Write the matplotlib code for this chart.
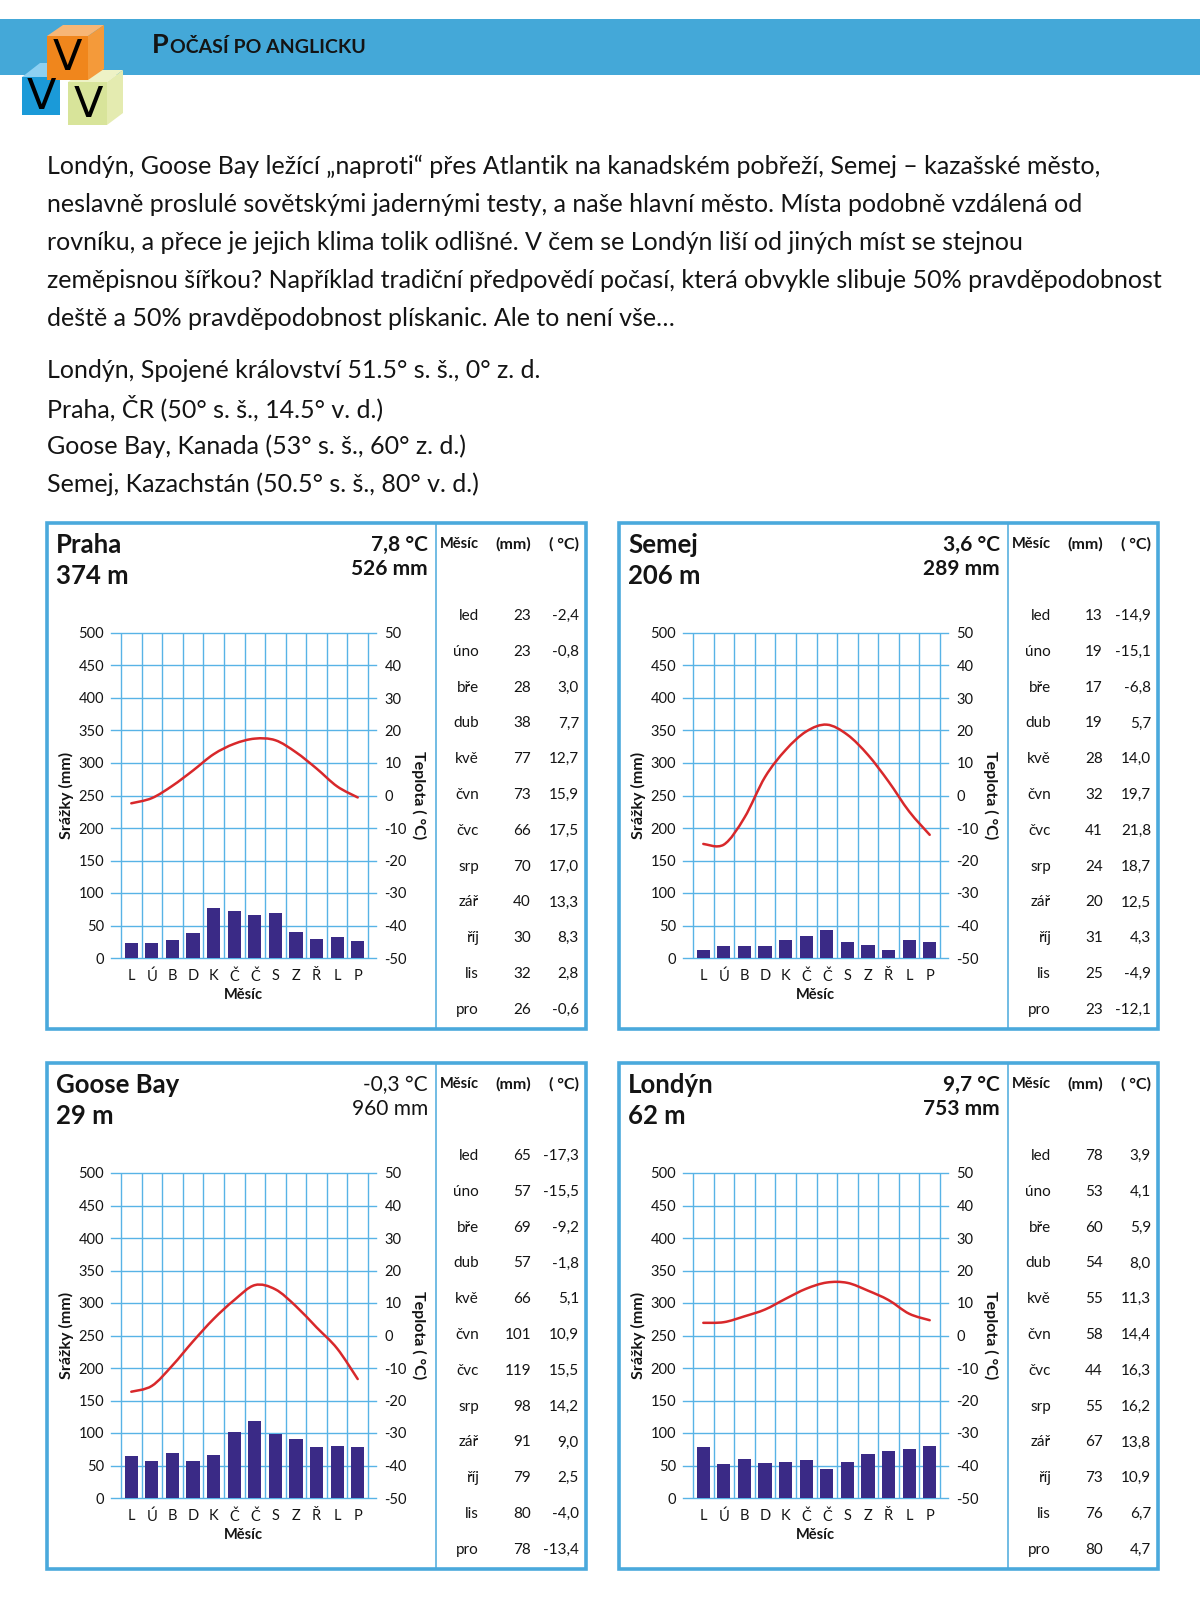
import matplotlib.pyplot as plt
import numpy as np
from matplotlib.patches import Rectangle, Polygon, PathPatch
from matplotlib.path import Path

plt.rcParams['font.family'] = ['Lato', 'DejaVu Sans']
plt.rcParams['axes.unicode_minus'] = False

W, H = 1200, 1612

# month labels
month_letters = ['L', 'Ú', 'B', 'D', 'K', 'Č', 'Č', 'S', 'Z', 'Ř', 'L', 'P']
month_names = ['led', 'úno', 'bře', 'dub', 'kvě', 'čvn', 'čvc', 'srp', 'zář', 'říj', 'lis', 'pro']

# station headers
cities = ['Praha', 'Semej', 'Goose Bay', 'Londýn']
altitudes = ['374 m', '206 m', '29 m', '62 m']
mean_temps = ['7,8', '3,6', '-0,3', '9,7']
total_precip = ['526', '289', '960', '753']

# monthly data (table values)
praha_mm = [23, 23, 28, 38, 77, 73, 66, 70, 40, 30, 32, 26]
praha_t = [-2.4, -0.8, 3.0, 7.7, 12.7, 15.9, 17.5, 17.0, 13.3, 8.3, 2.8, -0.6]
semej_mm = [13, 19, 17, 19, 28, 32, 41, 24, 20, 31, 25, 23]
semej_t = [-14.9, -15.1, -6.8, 5.7, 14.0, 19.7, 21.8, 18.7, 12.5, 4.3, -4.9, -12.1]
goose_mm = [65, 57, 69, 57, 66, 101, 119, 98, 91, 79, 80, 78]
goose_t = [-17.3, -15.5, -9.2, -1.8, 5.1, 10.9, 15.5, 14.2, 9.0, 2.5, -4.0, -13.4]
london_mm = [78, 53, 60, 54, 55, 58, 44, 55, 67, 73, 76, 80]
london_t = [3.9, 4.1, 5.9, 8.0, 11.3, 14.4, 16.3, 16.2, 13.8, 10.9, 6.7, 4.7]
# Semej bars in the chart differ a bit from its table
semej_bars = [12, 19, 19, 19, 28, 34, 43, 25, 20, 12, 27, 25]

intro = [
    'Londýn, Goose Bay ležící „naproti“ přes Atlantik na kanadském pobřeží, Semej – kazašské město,',
    'neslavně proslulé sovětskými jadernými testy, a naše hlavní město. Místa podobně vzdálená od',
    'rovníku, a přece je jejich klima tolik odlišné. V čem se Londýn liší od jiných míst se stejnou',
    'zeměpisnou šířkou? Například tradiční předpovědí počasí, která obvykle slibuje 50% pravděpodobnost',
    'deště a 50% pravděpodobnost plískanic. Ale to není vše…',
]
places = [
    'Londýn, Spojené království 51.5° s. š., 0° z. d.',
    'Praha, ČR (50° s. š., 14.5° v. d.)',
    'Goose Bay, Kanada (53° s. š., 60° z. d.)',
    'Semej, Kazachstán (50.5° s. š., 80° v. d.)',
]

band_col = '#44a8d8'
border_col = '#4aa9dc'
grid_col = '#58b3e6'
bar_col = '#3a2a86'
line_col = '#d8282b'
txt = '#141414'

fig = plt.figure(figsize=(12, 16.12), dpi=100)
page = fig.add_axes([0, 0, 1, 1])
page.set_xlim(0, W)
page.set_ylim(H, 0)
page.axis('off')

"""
# header band and logo
"""
page.add_patch(Rectangle((0, 19), W, 56, color=band_col, lw=0))

# blue cube
page.add_patch(Polygon([(22, 77), (40, 63), (76, 63), (60, 77)], color='#8dd0f2', lw=0))
page.add_patch(Rectangle((22, 77), 38, 38, color='#1b9ad8', lw=0))
# yellow cube
page.add_patch(Polygon([(68, 82), (84, 70), (123, 70), (107, 82)], color='#eef2c6', lw=0))
page.add_patch(Polygon([(107, 82), (123, 70), (123, 113), (107, 125)], color='#e4ebb0', lw=0))
page.add_patch(Rectangle((68, 82), 39, 43, color='#d8e49a', lw=0))
# orange cube
page.add_patch(Polygon([(47, 36), (63, 25), (104, 25), (88, 36)], color='#f7b676', lw=0))
page.add_patch(Polygon([(88, 36), (104, 25), (104, 69), (88, 80)], color='#f49a3a', lw=0))
page.add_patch(Rectangle((47, 36), 41, 44, color='#f0861c', lw=0))
for vx, vy in [(41, 97), (88, 105), (67, 58)]:
    page.text(vx, vy, 'V', fontsize=31, ha='center', va='center',
              color='black', family=['DejaVu Sans'])

t1 = page.text(152, 53, 'P', fontsize=19.5, fontweight='bold', va='baseline', color=txt)
fig.canvas.draw()
bb = t1.get_window_extent()
page.text(152 + bb.width + 1, 53, 'OČASÍ PO ANGLICKU', fontsize=14, fontweight='bold',
          va='baseline', color=txt)

"""
# intro text
"""
for i, line in enumerate(intro):
    page.text(47, 166 + i * 38, line, fontsize=18, va='center', color=txt)
for i, line in enumerate(places):
    page.text(47, 370 + i * 38, line, fontsize=18, va='center', color=txt)


def smooth_path(x, y):
    # smoothed line through the monthly points (Bezier segments)
    pts = np.column_stack([x, y]).astype(float)
    ext = np.vstack([pts[0], pts, pts[-1]])
    verts = [pts[0]]
    codes = [Path.MOVETO]
    for i in range(len(pts) - 1):
        p0, p1, p2, p3 = ext[i], ext[i + 1], ext[i + 2], ext[i + 3]
        verts += [p1 + (p2 - p0) / 6, p2 - (p3 - p1) / 6, p2]
        codes += [Path.CURVE4] * 3
    return Path(verts, codes)


def fmt(v):
    return ('%.1f' % v).replace('.', ',')


def draw_panel(x0, y0, k, table_mm, temps, bars, head_weight='bold'):
    pw, ph = 539, 506
    page.add_patch(Rectangle((x0, y0), pw, ph, fill=False, ec=border_col, lw=2.6))
    page.plot([x0 + 389, x0 + 389], [y0, y0 + ph], color=border_col, lw=1.1)

    page.text(x0 + 9, y0 + 22, cities[k], fontsize=18.5, fontweight='bold', va='center', color=txt)
    page.text(x0 + 9, y0 + 53, altitudes[k], fontsize=18.5, fontweight='bold', va='center', color=txt)
    page.text(x0 + 381, y0 + 22, mean_temps[k] + ' °C', fontsize=15, fontweight=head_weight,
              ha='right', va='center', color=txt)
    page.text(x0 + 381, y0 + 46, total_precip[k] + ' mm', fontsize=15, fontweight=head_weight,
              ha='right', va='center', color=txt)

    # table
    page.text(x0 + 432, y0 + 21, 'Měsíc', fontsize=10.5, fontweight='bold', ha='right', va='center', color=txt)
    page.text(x0 + 484, y0 + 21, '(mm)', fontsize=11.5, fontweight='bold', ha='right', va='center', color=txt)
    page.text(x0 + 532, y0 + 21, '( °C)', fontsize=11.5, fontweight='bold', ha='right', va='center', color=txt)
    for i in range(12):
        ry = y0 + 93 + i * 35.8
        page.text(x0 + 432, ry, month_names[i], fontsize=11, ha='right', va='center', color=txt)
        page.text(x0 + 484, ry, str(table_mm[i]), fontsize=11, ha='right', va='center', color=txt)
        page.text(x0 + 532, ry, fmt(temps[i]), fontsize=11, ha='right', va='center', color=txt)

    # chart
    step = (321 - 74) / 12
    ax = fig.add_axes([(x0 + 64) / W, 1 - (y0 + 435) / H, 265 / W, 325 / H])
    ax.set_xlim(-0.5 - 10 / step, 11.5 + 8 / step)
    ax.set_ylim(0, 500)
    for s in ax.spines.values():
        s.set_visible(False)
    ax.patch.set_alpha(0)
    for v in range(0, 501, 50):
        ax.axhline(v, color=grid_col, lw=1.0, zorder=0, clip_on=False)
    ax.vlines(np.arange(13) - 0.5, 0, 500, color=grid_col, lw=1.0, zorder=0, clip_on=False)
    ax.bar(np.arange(12), bars, width=0.64, color=bar_col, zorder=2)
    ax.set_yticks(range(0, 501, 50))
    ax.set_xticks(np.arange(12))
    ax.set_xticklabels(month_letters)
    ax.tick_params(length=0, labelsize=10.5, labelcolor=txt)
    ax.tick_params(axis='y', pad=5)
    ax.tick_params(axis='x', pad=8)
    ax.set_xlabel('Měsíc', fontsize=10.5, fontweight='bold', labelpad=3, color=txt)
    ax.set_ylabel('Srážky (mm)', fontsize=11.5, fontweight='bold', labelpad=3, color=txt)

    ax2 = ax.twinx()
    ax2.set_ylim(-50, 50)
    for s in ax2.spines.values():
        s.set_visible(False)
    ax2.set_yticks(range(-50, 51, 10))
    ax2.tick_params(length=0, labelsize=10.5, labelcolor=txt, pad=6)
    ax2.add_patch(PathPatch(smooth_path(np.arange(12), temps), fill=False, ec=line_col,
                            lw=1.8, zorder=3, capstyle='round'))
    ax2.set_ylabel('Teplota ( °C)', fontsize=11.5, fontweight='bold', rotation=-90,
                   labelpad=14, color=txt)


draw_panel(47, 523, 0, praha_mm, praha_t, praha_mm)
draw_panel(619, 523, 1, semej_mm, semej_t, semej_bars)
draw_panel(47, 1063, 2, goose_mm, goose_t, goose_mm, head_weight='normal')
draw_panel(619, 1063, 3, london_mm, london_t, london_mm)

plt.savefig('out.png', dpi=100)
plt.close()
